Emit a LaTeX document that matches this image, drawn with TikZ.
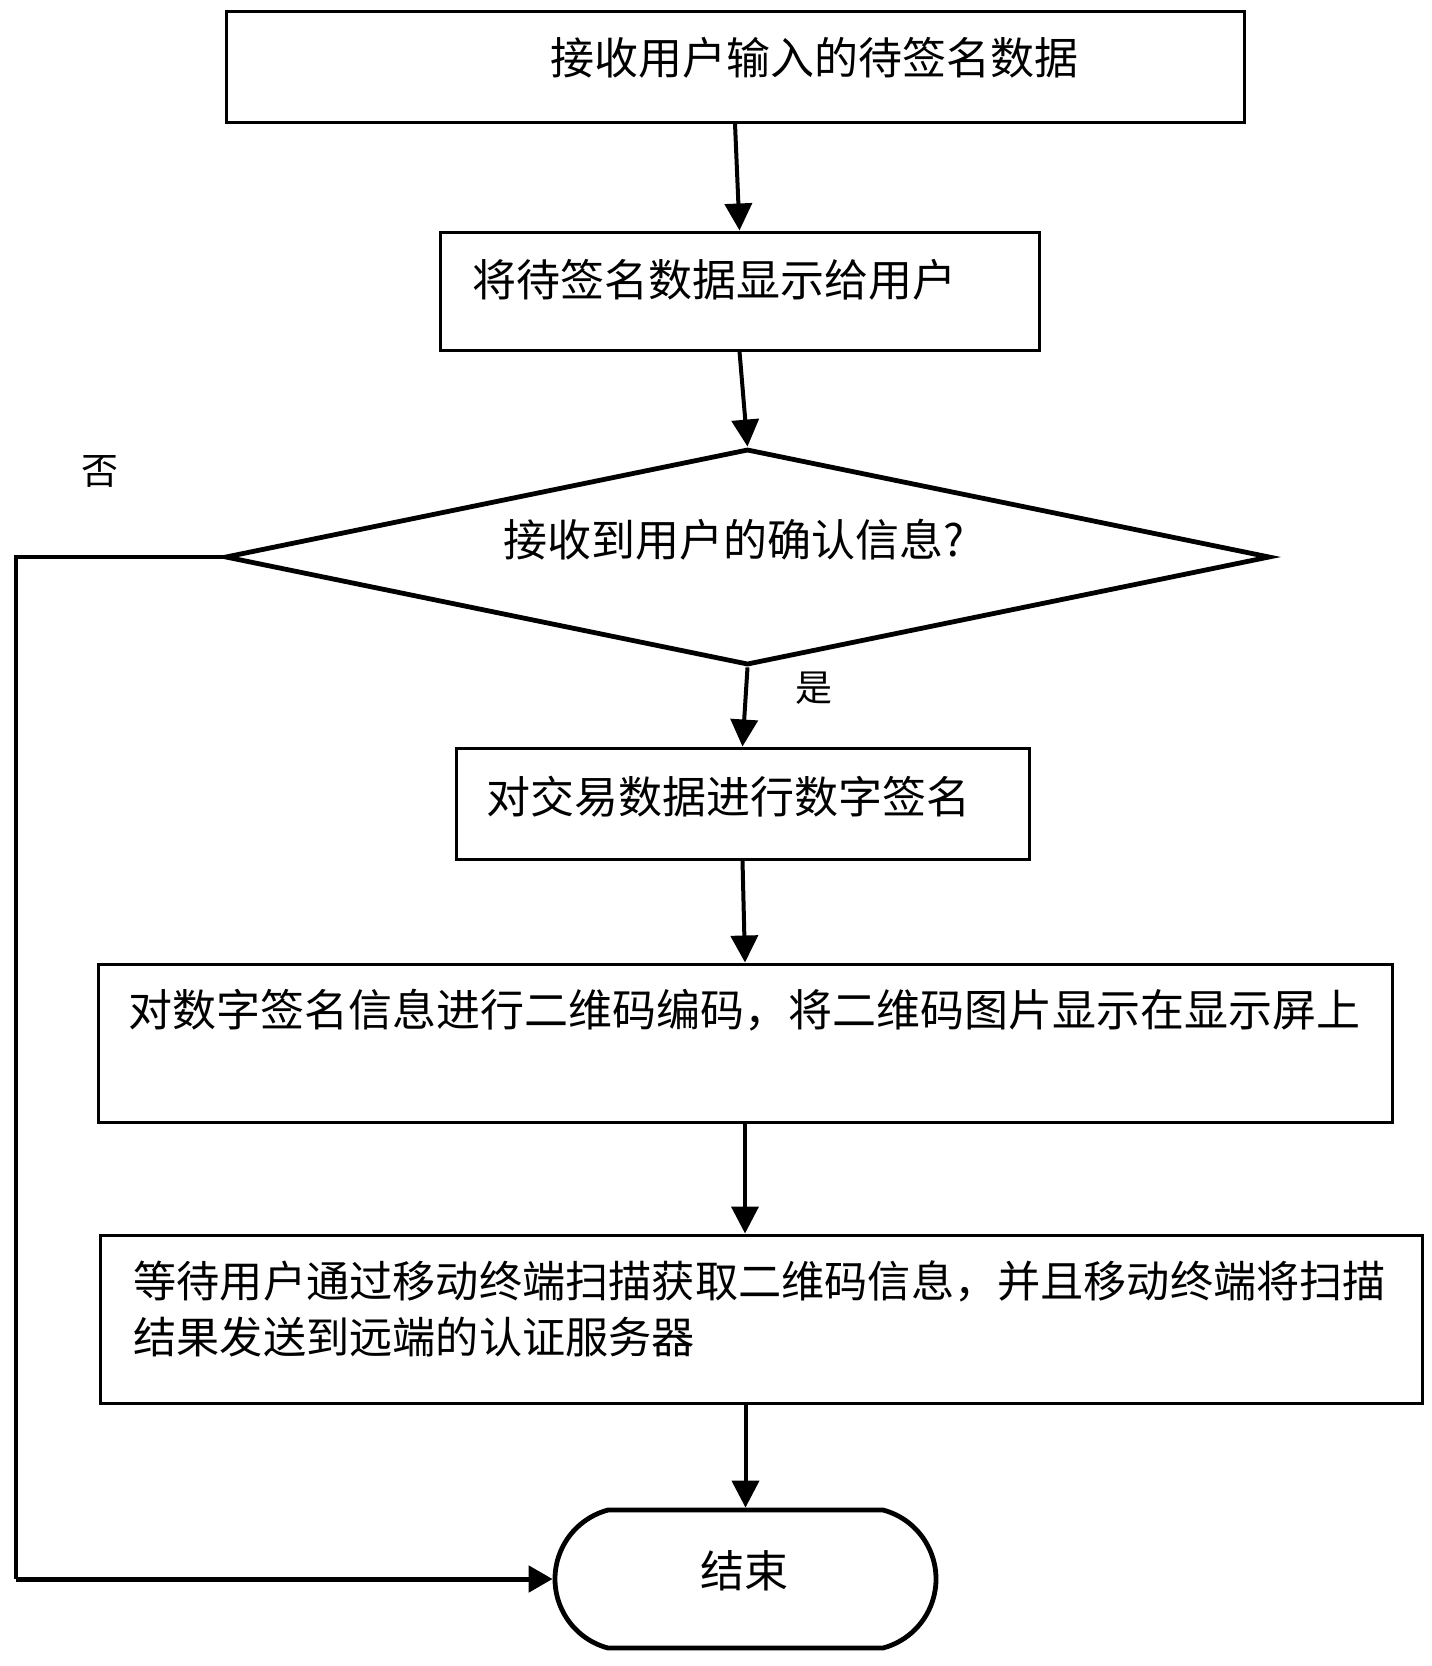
\documentclass[tikz,border=0pt]{standalone}
\usepackage{fontspec}
\setmainfont{Noto Sans CJK SC}
\usetikzlibrary{shapes.geometric,shapes.misc,arrows.meta}

\tikzset{
  box/.style={draw, line width=1.5pt, inner sep=0pt},
  decide/.style={draw, diamond, line width=2.4pt, inner sep=0pt},
  endbox/.style={draw, rounded rectangle, rounded rectangle arc length=150, line width=2.4pt, inner sep=0pt},
  txt/.style={inner sep=0pt, font=\fontsize{22}{28}\selectfont},
  lbl/.style={inner sep=0pt, font=\fontsize{18.5}{20}\selectfont},
  arr/.style={line width=2pt, -{Triangle[length=13.5pt,width=13.5pt]}},
}

\begin{document}
\begin{tikzpicture}[x=0.5pt,y=-0.5pt]
        \useasboundingbox (0,0) rectangle (1431,1666);

        \node[box, minimum width=509pt, minimum height=55.5pt] (recv) at (735,66.5) {};
        \node[box, minimum width=299.5pt, minimum height=59pt] (show) at (739.5,291) {};
        \node[decide, minimum width=522.5pt, minimum height=108pt] (check) at (747.5,557) {};
        \node[box, minimum width=286.5pt, minimum height=55.5pt] (sign) at (742.5,803.5) {};
        \node[box, minimum width=647pt, minimum height=79pt] (qr) at (745,1043) {};
        \node[box, minimum width=661pt, minimum height=84pt] (wait) at (761,1319) {};
        \node[endbox, minimum width=190.5pt, minimum height=69pt] (done) at (745.5,1579) {};

        \node[txt, anchor=west] (recvtext) at (550,58) {接收用户输入的待签名数据};
        \node[txt, anchor=west] (showtext) at (472,280) {将待签名数据显示给用户};
        \node[txt] (checktext) at (734,540) {接收到用户的确认信息?};
        \node[txt, anchor=west] (signtext) at (486,797) {对交易数据进行数字签名};
        \node[txt, anchor=west] (qrtext) at (128,1010) {对数字签名信息进行二维码编码，将二维码图片显示在显示屏上};
        \node[txt, anchor=west, align=left, font=\fontsize{21.6}{28}\selectfont] (waittext) at (133,1309) {等待用户通过移动终端扫描获取二维码信息，并且移动终端将扫描\\结果发送到远端的认证服务器};
        \node[txt] (donetext) at (744,1571) {结束};

        \node[lbl] (no) at (100,471) {否};
        \node[lbl] (yes) at (814,688) {是};

        \draw[arr] (recv.south) -- (show.north);
        \draw[arr] (show.south) -- (check.north);
        \draw[arr] (check.south) -- (sign.north);
        \draw[arr] (sign.south) -- (qr.north);
        \draw[arr] (qr.south) -- (qr.south |- wait.north);
        \draw[arr] (done.north |- wait.south) -- (done.north);

        \coordinate (nocorner) at (16,1579);
        \draw[line width=1.8pt] (check.west) -| (nocorner);
        \draw[line width=2.5pt, -{Triangle[length=12pt,width=13pt]}] (nocorner) -- (done.west);
    \end{tikzpicture}
\end{document}
